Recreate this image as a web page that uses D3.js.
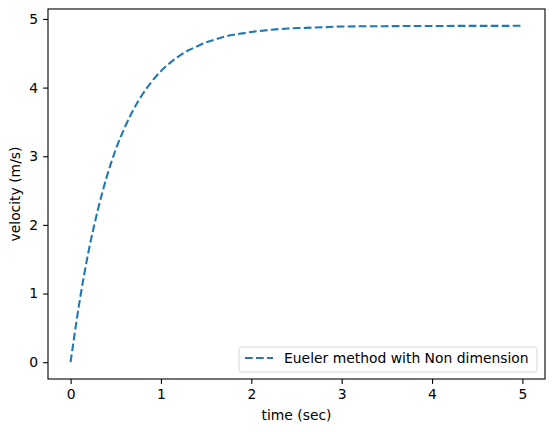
<!DOCTYPE html>
<html>
<head>
<meta charset="utf-8">
<script src="https://cdn.jsdelivr.net/npm/d3@7"></script>
<style>
  body { margin: 0; background: #fff; }
  svg text { font-family: "DejaVu Sans", sans-serif; fill: #000; }
</style>
</head>
<body>
<svg id="chart" width="554" height="432"></svg>
<script>
// Values
const times = [0, 0.1, 0.2, 0.3, 0.4, 0.5, 0.6, 0.7, 0.8, 0.9, 1.0, 1.1, 1.2, 1.3, 1.4, 1.5,
  1.6, 1.7, 1.8, 1.9, 2.0, 2.2, 2.4, 2.6, 2.8, 3.0, 3.5, 4.0, 4.5, 5.0]
const velocity = [0, 0.89, 1.62, 2.21, 2.70, 3.10, 3.42, 3.69, 3.91, 4.09, 4.24, 4.36, 4.46, 4.54, 4.60, 4.66,
  4.70, 4.74, 4.77, 4.79, 4.81, 4.84, 4.86, 4.87, 4.88, 4.89, 4.895, 4.898, 4.899, 4.90]
const xTicks = [0, 1, 2, 3, 4, 5]
const yTicks = [0, 1, 2, 3, 4, 5]
const seriesName = 'Eueler method with Non dimension'

const svg = d3.select('#chart')
const margin = { left: 48, top: 9, right: 9, bottom: 53 }
const width = 554 - margin.left - margin.right
const height = 432 - margin.top - margin.bottom

const x = d3.scaleLinear().domain([-0.25, 5.25]).range([0, width])
const y = d3.scaleLinear().domain([-0.245, 5.145]).range([height, 0])

const g = svg.append('g').attr('transform', `translate(${margin.left},${margin.top})`)

// Axes
const xAxis = g.append('g').attr('transform', `translate(0,${height})`)
  .call(d3.axisBottom(x).tickValues(xTicks).tickFormat(d3.format('d')).tickSize(4.9).tickPadding(4.9))
const yAxis = g.append('g')
  .call(d3.axisLeft(y).tickValues(yTicks).tickFormat(d3.format('d')).tickSize(4.9).tickPadding(4.9))

;[xAxis, yAxis].forEach(a => {
  a.select('.domain').remove()
  a.selectAll('.tick line').attr('stroke', '#000').attr('stroke-width', 1.1)
  a.selectAll('.tick text').attr('font-size', 13.9).attr('font-family', 'DejaVu Sans').attr('fill', '#000')
})

// Line
const line = d3.line()
  .x((d, i) => x(times[i]))
  .y(d => y(d))
  .curve(d3.curveMonotoneX)

g.append('path')
  .datum(velocity)
  .attr('fill', 'none')
  .attr('stroke', '#1f77b4')
  .attr('stroke-width', 2.08)
  .attr('stroke-dasharray', '7.7 3.3')
  .attr('d', line)

// Frame
g.append('rect')
  .attr('width', width).attr('height', height)
  .attr('fill', 'none').attr('stroke', '#000').attr('stroke-width', 1.1)

// Axis labels
svg.append('text')
  .attr('x', margin.left + width / 2).attr('y', 420)
  .attr('text-anchor', 'middle').attr('font-size', 13.9)
  .text('time (sec)')

svg.append('text')
  .attr('transform', `translate(20,${margin.top + height / 2}) rotate(-90)`)
  .attr('text-anchor', 'middle').attr('font-size', 13.9)
  .text('velocity (m/s)')

// Legend
const legend = svg.append('g').attr('transform', 'translate(239,347)')
legend.append('rect')
  .attr('width', 298).attr('height', 25).attr('rx', 3)
  .attr('fill', '#fff').attr('fill-opacity', 0.8)
  .attr('stroke', '#d6d6d6').attr('stroke-width', 1)
legend.append('line')
  .attr('x1', 6).attr('x2', 34).attr('y1', 11).attr('y2', 11)
  .attr('stroke', '#1f77b4').attr('stroke-width', 2.08)
  .attr('stroke-dasharray', '7.7 3.3')
legend.append('text')
  .attr('x', 45).attr('y', 16)
  .attr('font-size', 13.9)
  .text(seriesName)
</script>
</body>
</html>
